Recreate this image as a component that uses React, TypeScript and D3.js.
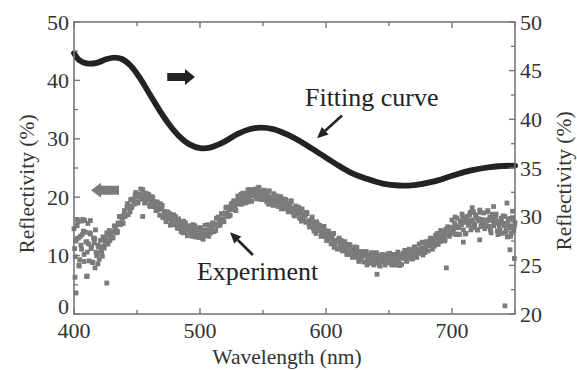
import React from "react";
import * as d3 from "d3";

// ---------------- data ----------------
const xMajorTicks = [400, 500, 600, 700];
const xMinorTicks = [450, 550, 650, 750];
const leftMajorTicks = [0, 10, 20, 30, 40, 50];
const leftMinorTicks = [5, 15, 25, 35, 45];
const rightMajorTicks = [20, 25, 30, 35, 40, 45, 50];
const rightMinorTicks = [22.5, 27.5, 32.5, 37.5, 42.5, 47.5];

// Fitting curve (right axis, %)
const fitWavelength = [400, 404, 410, 418, 426, 432, 438, 445, 452, 460, 468, 476, 484, 492, 500, 508, 518, 530, 540, 548, 558, 570, 584, 596, 608, 620, 632, 645, 658, 670, 685, 700, 715, 730, 750];
const fitReflectivity = [46.8, 46.1, 45.75, 45.8, 46.2, 46.35, 46.2, 45.5, 44.3, 42.6, 40.9, 39.4, 38.2, 37.4, 37.05, 37.1, 37.6, 38.5, 39.0, 39.15, 39.0, 38.4, 37.4, 36.4, 35.4, 34.5, 33.9, 33.4, 33.2, 33.25, 33.6, 34.2, 34.75, 35.1, 35.25];

// Experiment (left axis, %), one value per nm from 400 to 750
const expAFirst = 400;
const expAStep = 1;
const expA = [
  14.6, 9.8, 12.9, 15.8, 8.4, 13.3, 11.1, 16.2, 10.2, 14.0,
  12.4, 15.5, 9.1, 13.7, 11.5, 8.8, 12.2, 14.4, 10.0, 11.8,
  9.4, 12.6, 10.7, 13.2, 11.3, 12.4, 13.9, 12.0, 14.3, 13.1,
  14.0, 13.1, 15.1, 14.4, 13.9, 15.6, 16.7, 15.3, 16.4, 15.5,
  17.7, 17.0, 18.4, 17.0, 18.5, 19.6, 18.4, 19.7, 18.8, 20.8,
  20.0, 19.2, 20.5, 21.4, 19.7, 20.4, 19.0, 20.7, 19.5, 20.5,
  18.6, 19.5, 20.1, 18.4, 19.2, 17.7, 19.2, 17.9, 16.9, 18.0,
  18.6, 16.7, 17.2, 15.8, 17.5, 16.3, 17.2, 15.4, 16.3, 17.0,
  15.3, 16.2, 14.7, 16.3, 15.0, 14.1, 15.3, 15.9, 14.1, 14.7,
  13.4, 15.1, 14.0, 15.1, 13.3, 14.3, 15.1, 13.5, 14.5, 13.1,
  14.8, 13.7, 13.0, 14.3, 15.2, 13.5, 14.3, 13.3, 15.2, 14.4,
  15.6, 14.1, 15.4, 16.4, 15.1, 16.3, 15.2, 17.2, 16.3, 15.8,
  17.3, 18.3, 16.9, 17.8, 16.9, 18.9, 18.1, 19.4, 17.9, 19.2,
  20.2, 18.8, 20.0, 18.8, 20.7, 19.7, 19.0, 20.4, 21.3, 19.7,
  20.5, 19.3, 21.2, 20.2, 21.4, 19.7, 20.8, 21.5, 20.0, 20.9,
  19.6, 21.2, 20.0, 19.2, 20.4, 21.1, 19.3, 19.9, 18.6, 20.3,
  19.2, 20.2, 18.4, 19.4, 20.1, 18.5, 19.4, 18.0, 19.6, 18.4,
  17.5, 18.7, 19.4, 17.5, 18.1, 16.8, 18.5, 17.3, 18.3, 16.4,
  17.4, 18.0, 16.3, 17.1, 15.7, 17.2, 15.9, 14.9, 16.0, 16.6,
  14.7, 15.2, 13.8, 15.5, 14.3, 15.2, 13.3, 14.3, 14.9, 13.3,
  14.1, 12.6, 14.2, 12.9, 12.0, 13.1, 13.8, 11.9, 12.5, 11.1,
  12.8, 11.7, 12.6, 10.8, 11.7, 12.4, 10.8, 11.7, 10.2, 11.8,
  10.6, 9.7, 10.9, 11.5, 9.7, 10.3, 9.0, 10.7, 9.6, 10.7,
  8.9, 9.9, 10.7, 9.1, 10.1, 8.7, 10.4, 9.3, 8.4, 9.7,
  10.5, 8.8, 9.5, 8.2, 10.0, 9.0, 10.1, 8.4, 9.5, 10.3,
  8.8, 9.8, 8.5, 10.2, 9.2, 8.4, 9.7, 10.6, 8.9, 9.7,
  8.5, 10.4, 9.5, 10.7, 9.0, 10.2, 11.1, 9.7, 10.8, 9.6,
  11.4, 10.4, 9.7, 11.1, 12.0, 10.4, 11.2, 10.1, 12.1, 11.2,
  12.4, 10.8, 12.1, 13.0, 11.7, 12.8, 11.6, 13.5, 12.5, 11.9,
  13.3, 14.3, 12.7, 13.6, 12.5, 14.5, 13.6, 14.9, 13.3, 14.6,
  16.1, 13.8, 15.5, 13.6, 16.4, 14.8, 13.6, 15.8, 17.1, 14.4,
  15.7, 13.8, 16.7, 15.2, 17.0, 14.4, 16.1, 17.5, 15.1, 16.8,
  14.4, 16.3, 17.8, 15.0, 15.7, 17.3, 14.6, 16.1, 17.5, 15.0,
  16.6, 13.9, 17.1, 15.1, 15.8, 17.1, 14.2, 15.9, 14.3, 16.4,
  13.8, 15.5, 16.7, 14.3, 13.2, 16.3, 15.1, 13.8, 16.5, 14.2,
  15.6,
];

// Second pass of experiment points, every 2 nm from 400.5 nm
const expBFirst = 400.5;
const expBStep = 2;
const expB = [
  11.2, 15.1, 9.3, 13.6, 16.0,
  10.6, 13.9, 8.9, 12.9, 10.3,
  11.6, 9.9, 12.8, 13.5, 12.6,
  13.0, 15.0, 14.1, 16.7, 16.4,
  16.7, 18.9, 17.5, 19.5, 20.4,
  19.0, 20.4, 21.3, 19.5, 20.5,
  18.4, 19.9, 18.6, 17.8, 18.9,
  16.5, 17.4, 17.4, 15.2, 16.3,
  16.7, 14.7, 15.7, 13.9, 15.6,
  14.4, 13.9, 15.3, 13.2, 14.4,
  14.6, 12.8, 14.3, 15.3, 13.9,
  15.5, 14.3, 16.6, 16.1, 16.2,
  18.2, 16.7, 18.5, 19.2, 17.7,
  19.5, 20.5, 19.1, 20.6, 19.2,
  21.3, 20.5, 20.2, 21.7, 19.6,
  20.7, 20.9, 18.8, 20.0, 20.6,
  18.7, 19.8, 18.0, 19.7, 18.6,
  18.0, 19.3, 17.0, 18.1, 18.1,
  15.9, 16.9, 17.4, 15.3, 16.2,
  14.2, 15.8, 14.5, 13.8, 15.0,
  12.6, 13.6, 13.6, 11.4, 12.5,
  13.0, 11.1, 12.1, 10.2, 11.9,
  10.8, 10.1, 11.4, 9.2, 10.3,
  10.4, 8.4, 9.7, 10.5, 8.7,
  10.0, 8.3, 10.2, 9.3, 8.9,
  10.4, 8.4, 9.8, 10.2, 8.3,
  9.9, 10.9, 9.3, 10.8, 9.4,
  11.5, 10.8, 10.6, 12.3, 10.5,
  12.1, 12.7, 11.1, 12.8, 13.8,
  12.4, 14.0, 12.7, 14.9, 14.3,
  14.0, 16.6, 13.7, 15.9, 16.5,
  13.7, 16.0, 17.4, 14.8, 17.0,
  14.4, 17.4, 16.0, 15.3, 17.7,
  14.4, 16.3, 16.7, 13.6, 15.6,
  16.8, 14.0, 16.0, 13.3, 16.1,
];

// Third pass of experiment points (core of the band), every 2 nm from 401.5 nm
const expCFirst = 401.5;
const expCStep = 2;
const expC = [
  12.5, 13.0, 11.8, 14.2, 12.3,
  12.0, 11.2, 13.0, 10.6, 11.5,
  10.9, 11.6, 12.0, 12.6, 13.6,
  14.1, 14.3, 15.3, 15.5, 16.9,
  17.1, 18.1, 18.2, 19.2, 20.15,
  20.5, 20.1, 20.4, 19.7, 20.3,
  19.2, 19.1, 18.2, 18.1, 18.05,
  17.6, 16.7, 16.7, 15.9, 16.4,
  15.5, 15.5, 14.8, 14.8, 14.95,
  14.7, 14.1, 14.2, 13.6, 14.3,
  13.8, 14.2, 13.9, 14.4, 14.95,
  15.3, 15.2, 15.9, 15.8, 17.1,
  17.1, 17.9, 17.9, 18.6, 19.35,
  19.6, 19.4, 20.0, 19.7, 20.7,
  20.3, 20.7, 20.3, 20.6, 20.85,
  20.6, 19.9, 20.0, 19.3, 19.9,
  19.2, 19.3, 18.6, 18.7, 18.85,
  18.6, 17.9, 17.9, 17.2, 17.7,
  16.8, 16.8, 15.9, 15.8, 15.75,
  15.3, 14.5, 14.5, 13.7, 14.2,
  13.3, 13.3, 12.5, 12.5, 12.55,
  12.2, 11.4, 11.5, 10.7, 11.3,
  10.6, 10.7, 9.9, 10.0, 10.25,
  10.0, 9.4, 9.6, 9.0, 9.8,
  9.3, 9.5, 9.0, 9.3, 9.65,
  9.6, 9.1, 9.5, 9.1, 10.0,
  9.7, 10.1, 9.8, 10.3, 10.85,
  11.0, 10.7, 11.2, 10.9, 12.0,
  11.7, 12.3, 12.1, 12.7, 13.35,
  13.5, 13.3, 13.9, 13.7, 14.8,
  14.6, 15.1, 14.8, 15.3, 15.75,
  15.9, 15.5, 15.9, 15.5, 16.4,
  15.9, 16.2, 15.7, 15.9, 16.15,
  16.0, 15.4, 15.6, 15.0, 15.7,
  15.1, 15.3, 14.7, 14.8, 15.05,
];

// Scattered outlying experiment points
const outlierWavelength = [400.8, 401.6, 402.5, 404, 406, 408, 410, 410.5, 413, 416.7, 419, 426, 454.5, 640.5, 695.5, 709, 716, 722, 733, 742, 743.6, 746, 748, 749.5];
const outlierReflectivity = [6.3, 3.6, 16.2, 8.2, 15.9, 9.0, 6.4, 6.5, 16.0, 7.9, 8.6, 5.3, 16.7, 6.8, 7.9, 12.3, 18.2, 12.7, 18.4, 1.4, 19.0, 11.0, 17.6, 9.5];

// ---------------- layout ----------------
const W = 577;
const H = 370;
const plotLeft = 74;
const plotRight = 515;
const plotTop = 22;
const plotBottom = 314;

const FONT = '"Liberation Serif", Tinos, "Times New Roman", Times, "Noto Serif", "DejaVu Serif", serif';
const AXIS_COLOR = "#777";
const TEXT_COLOR = "#333";
const EXP_COLOR = "#7b7b7b";
const FIT_COLOR = "#232323";

export default function App() {
  const x = d3.scaleLinear().domain([400, 750]).range([plotLeft, plotRight]);
  const yL = d3.scaleLinear().domain([0, 50]).range([plotBottom, plotTop]);
  const yR = d3.scaleLinear().domain([20, 50]).range([plotBottom, plotTop]);

  const fitLine = d3
    .line<number>()
    .x((_, i) => x(fitWavelength[i]))
    .y((d) => yR(d))
    .curve(d3.curveCatmullRom.alpha(0.5));

  const expPoints = [
    ...expA.map((v, i) => ({ wl: expAFirst + i * expAStep, v })),
    ...expB.map((v, i) => ({ wl: expBFirst + i * expBStep, v })),
    ...expC.map((v, i) => ({ wl: expCFirst + i * expCStep, v })),
    ...outlierWavelength.map((wl, i) => ({ wl, v: outlierReflectivity[i] })),
  ];
  const sq = 4.8;

  // annotation anchors (data units)
  const rArrow = { x0: x(474), x1: x(496), y: yL(40.6) };
  const lArrow = { x0: x(413.5), x1: x(435.7), y: yL(21.2) };

  const blockRight = (x0: number, x1: number, y: number, bh: number, hl: number, hh: number) =>
    `M${x0},${y - bh}L${x1 - hl},${y - bh}L${x1 - hl},${y - hh}L${x1},${y}L${x1 - hl},${y + hh}L${x1 - hl},${y + bh}L${x0},${y + bh}Z`;
  const blockLeft = (x0: number, x1: number, y: number, bh: number, hl: number, hh: number) =>
    `M${x1},${y - bh}L${x0 + hl},${y - bh}L${x0 + hl},${y - hh}L${x0},${y}L${x0 + hl},${y + hh}L${x0 + hl},${y + bh}L${x1},${y + bh}Z`;

  const thinArrow = (tx: number, ty: number, hx: number, hy: number, key: string) => {
    const ang = Math.atan2(hy - ty, hx - tx);
    const hl = 11;
    const hw = 5;
    const bx = hx - hl * Math.cos(ang);
    const by = hy - hl * Math.sin(ang);
    const px = -Math.sin(ang) * hw;
    const py = Math.cos(ang) * hw;
    return (
      <g key={key}>
        <line x1={tx} y1={ty} x2={bx} y2={by} stroke={FIT_COLOR} strokeWidth={2.6} />
        <path d={`M${hx},${hy}L${bx + px},${by + py}L${bx - px},${by - py}Z`} fill={FIT_COLOR} />
      </g>
    );
  };

  return (
    <svg
      width={W}
      height={H}
      viewBox={`0 0 ${W} ${H}`}
      style={{ position: "absolute", left: 0, top: 0, background: "#fff" }}
    >
      <rect x={0} y={0} width={W} height={H} fill="#fff" />

      {/* experiment scatter */}
      <g fill={EXP_COLOR}>
        {expPoints.map((p, i) => (
          <rect key={"e" + i} x={x(p.wl) - sq / 2} y={yL(p.v) - sq / 2} width={sq} height={sq} />
        ))}
      </g>

      {/* fitting curve */}
      <path d={fitLine(fitReflectivity) || ""} fill="none" stroke={FIT_COLOR} strokeWidth={5.8} strokeLinecap="round" />

      {/* frame */}
      <rect
        x={plotLeft}
        y={plotTop}
        width={plotRight - plotLeft}
        height={plotBottom - plotTop}
        fill="none"
        stroke={AXIS_COLOR}
        strokeWidth={1.6}
      />

      {/* ticks (inward) */}
      <g stroke={AXIS_COLOR} strokeWidth={1.4}>
        {xMajorTicks.map((t) => (
          <g key={"xM" + t}>
            <line x1={x(t)} x2={x(t)} y1={plotBottom} y2={plotBottom - 6} />
            <line x1={x(t)} x2={x(t)} y1={plotTop} y2={plotTop + 6} />
          </g>
        ))}
        {xMinorTicks.map((t) => (
          <g key={"xm" + t}>
            <line x1={x(t)} x2={x(t)} y1={plotBottom} y2={plotBottom - 4} />
            <line x1={x(t)} x2={x(t)} y1={plotTop} y2={plotTop + 4} />
          </g>
        ))}
        {leftMajorTicks.map((t) => (
          <line key={"lM" + t} x1={plotLeft} x2={plotLeft + 6} y1={yL(t)} y2={yL(t)} />
        ))}
        {leftMinorTicks.map((t) => (
          <line key={"lm" + t} x1={plotLeft} x2={plotLeft + 4} y1={yL(t)} y2={yL(t)} />
        ))}
        {rightMajorTicks.map((t) => (
          <line key={"rM" + t} x1={plotRight} x2={plotRight - 6} y1={yR(t)} y2={yR(t)} />
        ))}
        {rightMinorTicks.map((t) => (
          <line key={"rm" + t} x1={plotRight} x2={plotRight - 4} y1={yR(t)} y2={yR(t)} />
        ))}
      </g>

      {/* tick labels */}
      <g fill={TEXT_COLOR} fontSize={22} fontFamily={FONT}>
        {xMajorTicks.map((t) => (
          <text key={"xl" + t} x={x(t)} y={338} textAnchor="middle">
            {t}
          </text>
        ))}
        {leftMajorTicks.map((t) => (
          <text key={"ll" + t} x={69} y={yL(t) - (t === 0 ? 8 : 0)} textAnchor="end" dominantBaseline="central">
            {t}
          </text>
        ))}
        {rightMajorTicks.map((t) => (
          <text key={"rl" + t} x={520} y={yR(t)} textAnchor="start" dominantBaseline="central">
            {t}
          </text>
        ))}
      </g>

      {/* axis titles */}
      <g fill={TEXT_COLOR} fontSize={21.5} fontFamily={FONT}>
        <text x={287} y={364} textAnchor="middle">
          Wavelength (nm)
        </text>
        <text transform="translate(27,184) rotate(-90)" textAnchor="middle" dominantBaseline="central">
          Reflectivity (%)
        </text>
        <text transform="translate(564,181) rotate(-90)" textAnchor="middle" dominantBaseline="central">
          Reflectivity (%)
        </text>
      </g>

      {/* annotations */}
      <path d={blockRight(rArrow.x0, rArrow.x1, rArrow.y, 4, 10, 8)} fill={FIT_COLOR} />
      <path d={blockLeft(lArrow.x0, lArrow.x1, lArrow.y, 4.5, 10, 7.5)} fill={EXP_COLOR} />

      <g fill="#222" fontSize={26} fontFamily={FONT}>
        <text x={x(583.3)} y={yL(35.6)}>Fitting curve</text>
        <text x={x(497.6)} y={yL(5.8)}>Experiment</text>
      </g>
      {thinArrow(x(612.7), yL(34), x(592.9), yL(30.1), "fa")}
      {thinArrow(x(542), yL(10.1), x(523.8), yL(14.0), "ea")}
    </svg>
  );
}
